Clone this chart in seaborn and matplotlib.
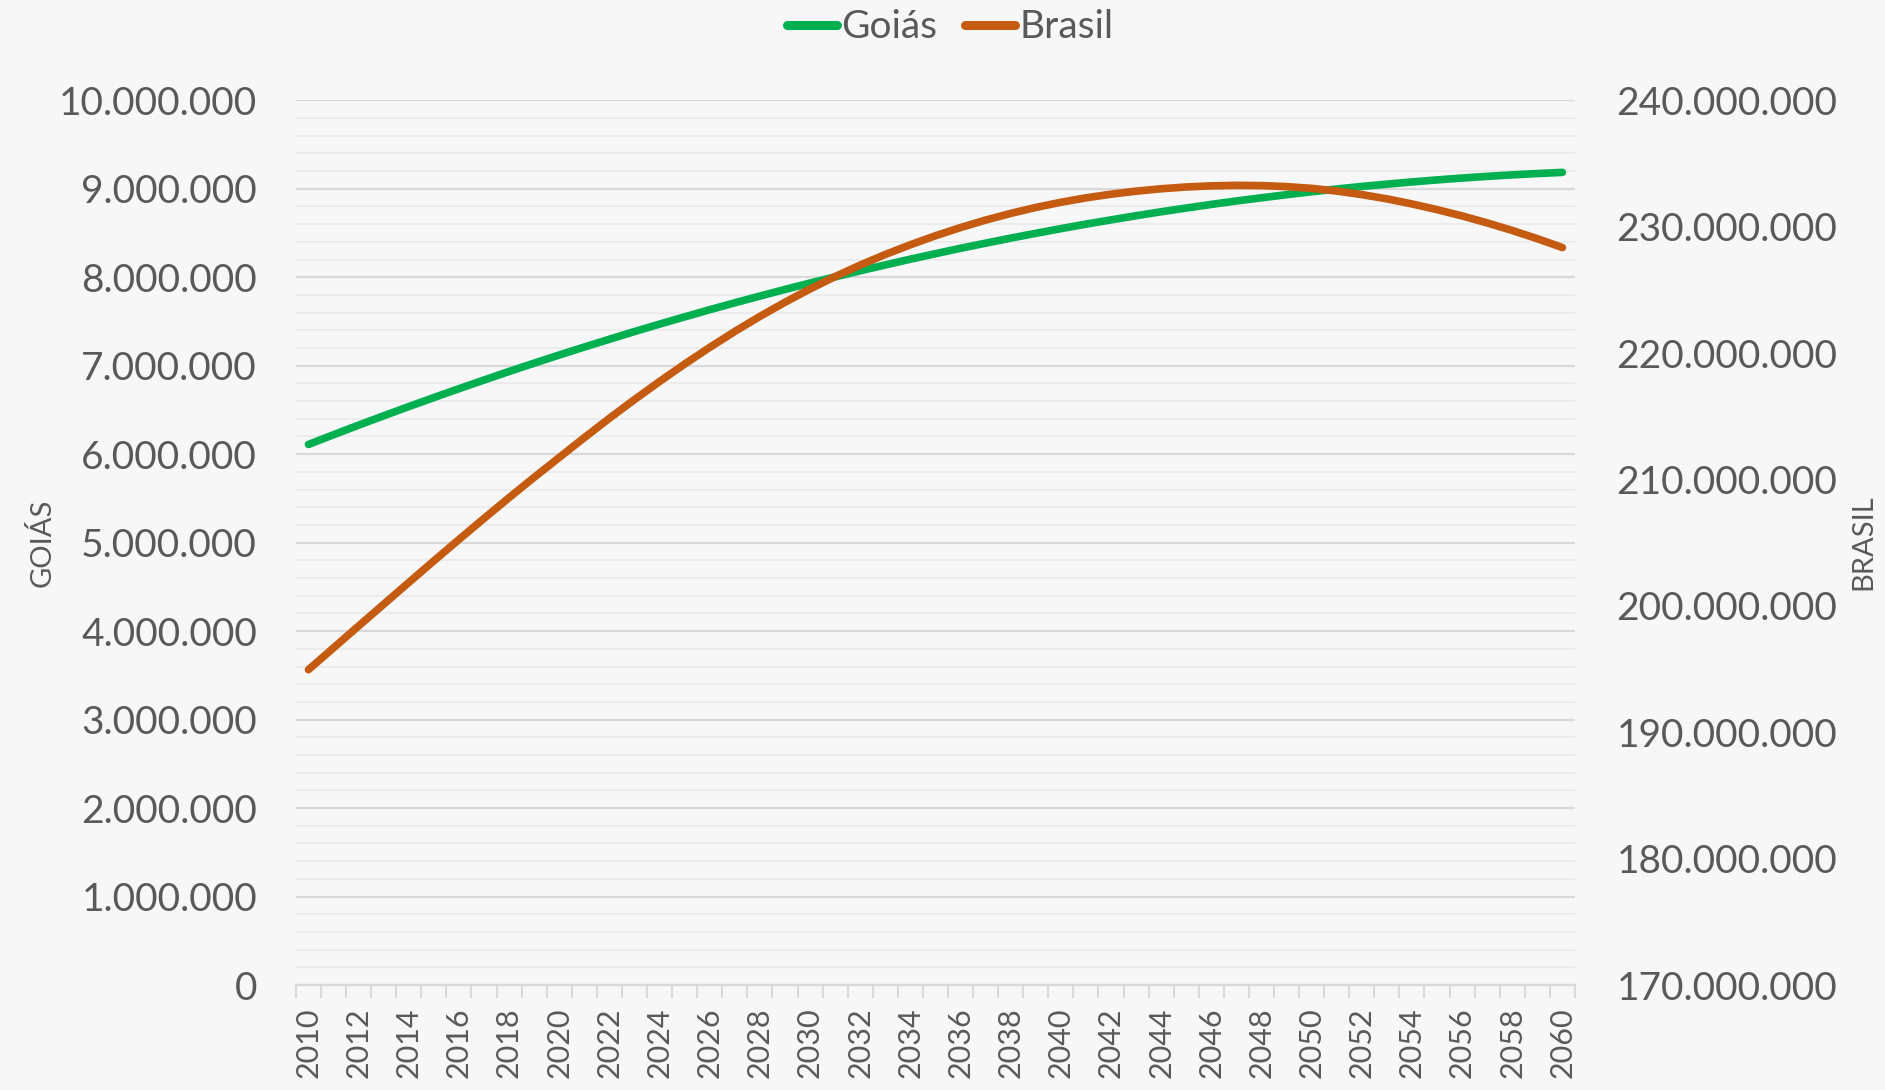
import numpy as np
import pandas as pd
import matplotlib
matplotlib.use("Agg")
import matplotlib.pyplot as plt
from matplotlib.ticker import MultipleLocator, FuncFormatter
import seaborn as sns

# population projection 2010-2060 (millions)
years = list(range(2010, 2061))
goias = [6.110, 6.220, 6.328, 6.434, 6.538, 6.640, 6.740, 6.838, 6.935, 7.029,
         7.121, 7.211, 7.299, 7.386, 7.470, 7.552, 7.633, 7.711, 7.787, 7.862,
         7.934, 8.004, 8.073, 8.139, 8.204, 8.266, 8.327, 8.385, 8.442, 8.496,
         8.549, 8.600, 8.648, 8.695, 8.740, 8.782, 8.823, 8.862, 8.898, 8.933,
         8.966, 8.997, 9.026, 9.052, 9.077, 9.100, 9.121, 9.140, 9.157, 9.172,
         9.185]
brasil = [194.95, 196.68, 198.41, 200.13, 201.85, 203.56, 205.25, 206.92, 208.56, 210.17,
          211.74, 213.31, 214.84, 216.32, 217.75, 219.13, 220.45, 221.71, 222.90, 224.02,
          225.07, 226.05, 226.96, 227.80, 228.57, 229.28, 229.93, 230.52, 231.05, 231.52,
          231.93, 232.28, 232.57, 232.81, 233.00, 233.14, 233.23, 233.27, 233.25, 233.17,
          233.03, 232.82, 232.54, 232.20, 231.80, 231.35, 230.85, 230.30, 229.70, 229.05,
          228.35]

df = pd.DataFrame({'Ano': years,
                   'Goiás': np.array(goias) * 1e6,
                   'Brasil': np.array(brasil) * 1e6})

green = '#00B050'
orange = '#C55A11'
txt = '#595959'
bg = '#f7f7f7'

sns.set_theme(style='white')
plt.rcParams['font.family'] = ['Lato', 'DejaVu Sans']

fig = plt.figure(figsize=(18.85, 10.9), dpi=100, facecolor=bg)
ax = fig.add_axes([0.157, 0.0963, 0.6785, 0.8117])
ax.set_facecolor(bg)

sns.lineplot(data=df, x='Ano', y='Goiás', ax=ax, color=green, lw=5.5,
             label='Goiás', legend=False, solid_capstyle='round',
             solid_joinstyle='round')
ax2 = ax.twinx()
sns.lineplot(data=df, x='Ano', y='Brasil', ax=ax2, color=orange, lw=5.5,
             label='Brasil', legend=False, solid_capstyle='round',
             solid_joinstyle='round')

fmt = FuncFormatter(lambda v, p: f"{int(round(v)):,}".replace(',', '.'))

ax.set_ylim(0, 10e6)
ax.yaxis.set_major_locator(MultipleLocator(1e6))
ax.yaxis.set_minor_locator(MultipleLocator(2e5))
ax.yaxis.set_major_formatter(fmt)
ax2.set_ylim(170e6, 240e6)
ax2.yaxis.set_major_locator(MultipleLocator(10e6))
ax2.yaxis.set_major_formatter(fmt)

ax.set_xlim(2009.5, 2060.5)
ax.set_xticks(years[::2])
ax.set_xticks(np.arange(2009.5, 2061, 1), minor=True)

ax.grid(which='major', axis='y', color='#d9d9d9', lw=1.6)
ax.grid(which='minor', axis='y', color='#e9e9e9', lw=1.2)
ax.set_axisbelow(True)

for a in (ax, ax2):
    for s in a.spines.values():
        s.set_visible(False)
ax.spines['bottom'].set_visible(True)
ax.spines['bottom'].set_color('#d9d9d9')
ax.spines['bottom'].set_linewidth(1.6)

ax.tick_params(axis='y', which='both', length=0, pad=28, labelsize=28, labelcolor=txt)
ax2.tick_params(axis='y', which='both', length=0, pad=30, labelsize=28, labelcolor=txt)
ax.tick_params(axis='x', which='major', length=0, pad=16, labelsize=22,
               labelcolor=txt, rotation=90)
ax.tick_params(axis='x', which='minor', bottom=True, length=9, width=1.5,
               color='#d9d9d9')

ax.set_xlabel('')
ax.set_ylabel('GOIÁS', fontsize=21, color=txt)
ax.yaxis.set_label_coords(-0.188, 0.5)
ax2.set_ylabel('BRASIL', fontsize=21, color=txt)
ax2.yaxis.set_label_coords(1.215, 0.5)

h1, l1 = ax.get_legend_handles_labels()
h2, l2 = ax2.get_legend_handles_labels()
leg = fig.legend(h1 + h2, l1 + l2, loc='center', bbox_to_anchor=(0.504, 0.975),
                 ncol=2, frameon=False, fontsize=28, labelcolor=txt,
                 handlelength=1.3, handletextpad=0.1, columnspacing=0.7)
for ln in leg.get_lines():
    ln.set_linewidth(6.5)

fig.savefig('out.png', dpi=100, facecolor=bg)
